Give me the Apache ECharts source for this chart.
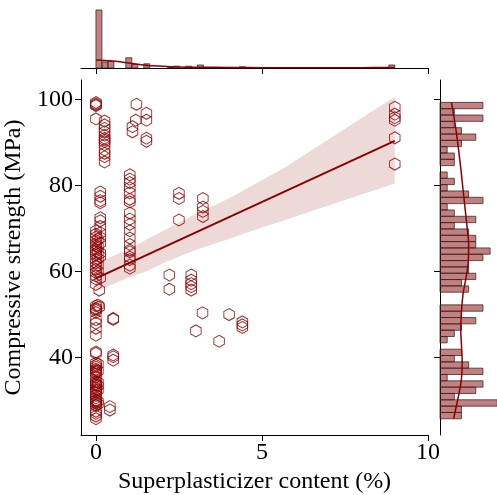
<!DOCTYPE html>
<html><head><meta charset="utf-8">
<script src="https://cdn.jsdelivr.net/npm/echarts@6/dist/echarts.min.js"></script>
<style>html,body{margin:0;padding:0;background:#fff}#c{width:497px;height:495px}</style>
</head><body><div id="c"></div>
<script>
// Scatter: superplasticizer content (%) vs compressive strength (MPa)
const spX = [
0,0,0,0,1.22,9,
1.52,9,
0,1.52,1.2,9,9,0.26,
0.26,1.1,
0.26,0.26,1.1,
0.26,0.26,1.52,9,0.26,
0.26,1.52,0.26,
0.26,
0.26,0.26,
0.26,9,
1.02,
1.02,1.02,
1.02,
1.02,2.5,0.13,0.13,
2.5,3.22,1.02,0.13,0.13,1.02,
3.22,
3.22,1.02,
2.5,3.22,0.13,0.13,1.02,
1.02,0.13,
0,1.02,0.13,0,
0,1.02,0.06,0,0.13,
0,1.02,0.06,0,0.13,
0,1.02,0.06,0,0.13,0,1.02,
0,1.02,0.06,0,0.13,1.02,
0,1.02,0.06,0,
0,1.02,0.06,0,
2.21,2.87,0,0.13,0,
2.87,2.87,0,
2.21,2.87,2.87,0.1,
0,0.1,0,0,0.06,0,
3.21,4.01,0,
0.52,4.41,0,0,0.52,
4.41,0,4.41,
3.01,0,
3.71,
0,0,0.52,
0.52,0.52,
0,0,0,0.06,
0,0,0,0,0,0.06,
0,
0,0,0,0,0.06,0.06,
0,0,0,0,0.06,
0,0,
0,0,0,0,0.06,0.06,0,0,
0.42,0.42,0,
0,0,0
];
const csY = [
99.3,99.0,98.8,98.6,98.9,98.2,
96.8,96.6,
95.5,95.2,95.2,95.2,95.8,95.0,
94.1,93.7,
93.3,92.5,92.5,
91.7,91.0,91.0,91.1,90.6,
90.2,90.3,89.5,
88.3,
87.5,86.7,
85.5,85.0,
82.5,
81.5,80.7,
79.5,
78.3,78.2,78.5,77.5,
77.0,77.0,76.8,76.5,76.0,76.2,
75.0,
74.0,73.6,
72.0,72.8,72.5,71.8,72.2,
71.0,70.5,
69.5,69.5,69.0,68.7,
68.0,67.8,67.5,67.2,67.9,
66.5,66.3,65.8,66.0,66.6,
65.2,65.0,64.5,64.8,64.3,64.2,64.6,
63.8,63.4,63.0,62.8,63.5,62.8,
62.0,61.5,61.5,61.2,
60.5,60.8,60.0,59.8,
59.2,59.2,59.0,58.5,58.3,
58.0,57.2,57.0,
55.9,56.5,55.7,55.7,
52.0,51.8,51.5,51.0,52.2,51.3,
50.4,50.0,50.5,
49.1,48.3,48.0,48.8,48.9,
47.6,46.8,47.0,
46.2,45.2,
43.8,
41.3,41.0,40.6,
40.2,39.4,
38.7,38.2,37.8,38.5,
37.3,37.0,36.8,36.5,36.2,36.9,
35.5,
34.4,34.0,33.7,33.4,34.2,33.5,
33.0,32.6,32.3,31.9,32.5,
31.2,30.6,
30.1,29.7,29.4,29.0,29.8,29.2,28.8,30.0,
28.6,27.8,27.5,
27.0,26.4,25.8
];

// Regression line and its confidence band
const fitX = [0, 9];
const fitY = [58.4, 90.4];
const bandX    = [0,    1,    1.6,  2,    3,    4,    4.64, 5.65, 7.36, 9];
const bandLow  = [55.5, 58.6, 60.3, 61.9, 65.0, 67.6, 69.3, 71.9, 76.3, 80.5];
const bandHigh = [62.0, 65.2, 67.8, 69.4, 73.4, 77.0, 79.7, 84.0, 92.5, 100.65];

// Top marginal histogram (superplasticizer), 50 bins from 0 to 9
const xBinStart = 0, xBinWidth = 0.18;
const xHistCounts = [96,10,11,0,0,17,6,0,7,0, 0,0,1,3,0,3,1,5,0,0, 1,0,1,0,2,0,0,0,0,0, 0,0,0,0,0,0,0,0,0,0, 0,0,0,0,0,0,0,0,0,5];
const xKdeX = [0, 0.5, 1.0, 1.5, 2.0, 2.5, 3.0, 4.0, 5.0, 6.0, 7.0, 8.0, 9.0];
const xKdeY = [13.2, 11.6, 8.3, 4.5, 2.8, 1.7, 1.3, 1.0, 0.6, 0.5, 0.5, 0.6, 0.9];

// Right marginal histogram (compressive strength), 50 bins from 25.77 to 99.35 (bottom to top)
const yBinStart = 25.77, yBinWidth = 1.4716;
const yHistCounts = [3,3,8,2,5,6,1,6,4,2, 3,0,1,2,3,5,3,6,0,0, 4,3,5,4,4,6,7,5,5,4, 2,5,2,1,6,4,1,2,1,0, 2,2,1,3,5,3,2,6,2,6];
const yKdeV = [25.8, 28.1, 31.2, 35.1, 38.95, 42.8, 46.7, 50.6, 54.5, 58.3, 62.3, 66.2, 70.0, 77.8, 85.5, 93.3, 99.35];
const yKdeC = [1.9, 2.2, 2.6, 3.0, 3.1, 3.0, 2.9, 3.0, 3.2, 3.6, 3.95, 4.0, 3.8, 3.3, 2.8, 2.2, 1.6];

// Axis ticks
const xTicks = [0, 5, 10];
const yTicks = [40, 60, 80, 100];

const RED = '#8b0000';
const BAR_FILL = 'rgba(139,0,0,0.5)';
const BAR_EDGE = 'rgba(40,40,40,0.75)';
const FONT = 'Liberation Serif';
const hexPath = 'path://M0,-1 L0.866,-0.5 L0.866,0.5 L0,1 L-0.866,0.5 L-0.866,-0.5 Z';

const chart = echarts.init(document.getElementById('c'), null, {renderer: 'canvas'});

const scatterData = spX.map((x, i) => [x, csY[i]]);
const xHistData = xHistCounts.map((c, i) => [xBinStart + i * xBinWidth, xBinStart + (i + 1) * xBinWidth, c]);
const yHistData = yHistCounts.map((c, i) => [yBinStart + i * yBinWidth, yBinStart + (i + 1) * yBinWidth, c]);

function topBar(params, api) {
  const c = api.value(2);
  if (!c) return null;
  const p0 = api.coord([api.value(0), 0]);
  const p1 = api.coord([api.value(1), c]);
  return {type: 'rect', shape: {x: p0[0], y: p1[1], width: p1[0] - p0[0], height: p0[1] - p1[1]},
    style: {fill: BAR_FILL, stroke: BAR_EDGE, lineWidth: 1}};
}
function rightBar(params, api) {
  const c = api.value(2);
  if (!c) return null;
  const p0 = api.coord([0, api.value(0)]);
  const p1 = api.coord([c, api.value(1)]);
  return {type: 'rect', shape: {x: p0[0], y: p1[1], width: p1[0] - p0[0], height: p0[1] - p1[1]},
    style: {fill: BAR_FILL, stroke: BAR_EDGE, lineWidth: 1}};
}
function bandPoly(params, api) {
  if (params.dataIndex !== 0) return null;
  const pts = [];
  for (let i = 0; i < bandX.length; i++) pts.push(api.coord([bandX[i], bandHigh[i]]));
  for (let i = bandX.length - 1; i >= 0; i--) pts.push(api.coord([bandX[i], bandLow[i]]));
  return {type: 'polygon', shape: {points: pts}, style: {fill: 'rgba(139,0,0,0.15)'}, silent: true};
}

const axisTxt = {color: '#000', fontFamily: FONT, fontSize: 24};

chart.setOption({
  animation: false,
  backgroundColor: '#fff',
  grid: [
    {left: 81, top: 80, width: 347, height: 355, containLabel: false, outerBoundsMode: 'none'},
    {left: 81, top: 0, width: 347, height: 68, containLabel: false, outerBoundsMode: 'none'},
    {left: 440, top: 80, width: 71.6, height: 355, containLabel: false, outerBoundsMode: 'none'}
  ],
  xAxis: [
    {gridIndex: 0, type: 'value', min: -0.45, max: 10,
     name: 'Superplasticizer content (%)', nameLocation: 'middle', nameGap: 32, nameTextStyle: axisTxt,
     axisLine: {show: true, onZero: false, lineStyle: {color: '#000', width: 1}},
     axisTick: {show: true, length: 6, customValues: xTicks, lineStyle: {color: '#000'}},
     axisLabel: {customValues: xTicks, margin: 6, ...axisTxt},
     splitLine: {show: false}},
    {gridIndex: 1, type: 'value', min: -0.45, max: 10, position: 'bottom',
     axisLine: {show: true, onZero: false, lineStyle: {color: '#000', width: 1}},
     axisTick: {show: true, length: 6, customValues: xTicks, lineStyle: {color: '#000'}},
     axisLabel: {show: false}, splitLine: {show: false}},
    {gridIndex: 2, type: 'value', min: 0, max: 10, show: false, splitLine: {show: false}}
  ],
  yAxis: [
    {gridIndex: 0, type: 'value', min: 22.0, max: 104.55,
     name: 'Compressive strength (MPa)', nameLocation: 'middle', nameGap: 48, nameRotate: 90, nameTextStyle: axisTxt,
     axisLine: {show: true, onZero: false, lineStyle: {color: '#000', width: 1}},
     axisTick: {show: true, length: 6, customValues: yTicks, lineStyle: {color: '#000'}},
     axisLabel: {customValues: yTicks, margin: 8, ...axisTxt},
     splitLine: {show: false}},
    {gridIndex: 1, type: 'value', min: 0, max: 112.5, show: false, splitLine: {show: false}},
    {gridIndex: 2, type: 'value', min: 22.0, max: 104.55, position: 'left',
     axisLine: {show: true, onZero: false, lineStyle: {color: '#000', width: 1}},
     axisTick: {show: true, length: 6, customValues: yTicks, lineStyle: {color: '#000'}},
     axisLabel: {show: false}, splitLine: {show: false}}
  ],
  series: [
    {type: 'scatter', xAxisIndex: 0, yAxisIndex: 0, data: scatterData,
     symbol: hexPath, symbolSize: [10.5, 12],
     itemStyle: {color: 'rgba(0,0,0,0)', borderColor: RED, borderWidth: 1}, z: 2},
    {type: 'custom', xAxisIndex: 0, yAxisIndex: 0, data: [[bandX[0], bandLow[0]]],
     renderItem: bandPoly, encode: {x: 0, y: 1}, z: 3, silent: true},
    {type: 'line', xAxisIndex: 0, yAxisIndex: 0, data: fitX.map((x, i) => [x, fitY[i]]),
     showSymbol: false, symbol: 'none', lineStyle: {color: RED, width: 2}, z: 4},
    {type: 'custom', xAxisIndex: 1, yAxisIndex: 1, data: xHistData, renderItem: topBar,
     encode: {x: [0, 1], y: 2}, z: 2},
    {type: 'line', xAxisIndex: 1, yAxisIndex: 1, data: xKdeX.map((x, i) => [x, xKdeY[i]]),
     smooth: 0.4, showSymbol: false, symbol: 'none', lineStyle: {color: RED, width: 1.5}, z: 3},
    {type: 'custom', xAxisIndex: 2, yAxisIndex: 2, data: yHistData, renderItem: rightBar,
     encode: {x: 2, y: [0, 1]}, z: 2},
    {type: 'line', xAxisIndex: 2, yAxisIndex: 2, data: yKdeV.map((v, i) => [yKdeC[i], v]),
     smooth: 0.4, showSymbol: false, symbol: 'none', lineStyle: {color: RED, width: 1.5}, z: 3}
  ]
});
</script></body></html>
